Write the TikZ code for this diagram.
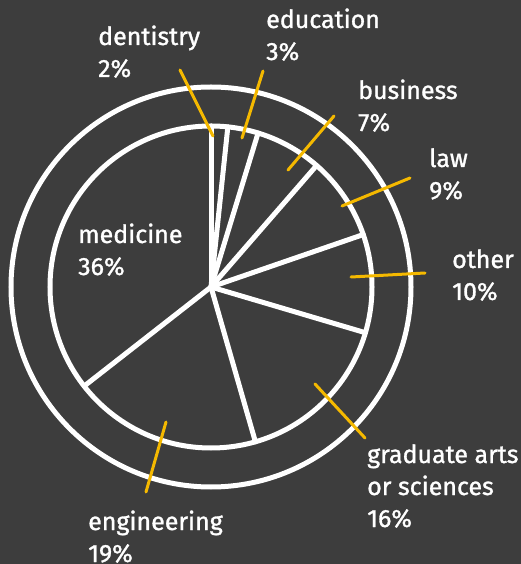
\documentclass[tikz,border=0pt]{standalone}
\usepackage{fontspec}
\setmainfont{Fira Sans}[UprightFeatures={FakeBold=1.2}]
\usepackage{xcolor}
\usepackage{tkz-euclide}
\usetikzlibrary{arrows, calc}
\definecolor{slate}{RGB}{61,61,61}
\definecolor{amber}{RGB}{245,185,0}
\tikzset{
  spoke/.style={white, line width=5pt, line cap=round},
  leader/.style={amber, line width=3pt},
  lbl/.style={text=white, font=\fontsize{25}{32}\selectfont, align=left, inner sep=0pt, anchor=base west}
}

\begin{document}
\begin{tikzpicture}[x=1pt,y=1pt]
    \fill[slate] (-211,-277) rectangle (310,287);
    \useasboundingbox (-211,-277) rectangle (310,287);
    \tkzDefPoint(0,0){O}
    \tkzDefPoint(90:161){s_1}
    \tkzDefPoint(84:161){s_2}
    \tkzDefPoint(73:161){s_3}
    \tkzDefPoint(49:161){s_4}
    \tkzDefPoint(19:161){s_5}
    \tkzDefPoint(-16.5:161){s_6}
    \tkzDefPoint(-74:161){s_7}
    \tkzDefPoint(218:161){s_8}
    \tkzDefPoint(0:200){r}
    % rings
    \tkzDrawCircle[spoke](O,s_1)
    \tkzDrawCircle[spoke](O,r)
    \tkzDrawSegments[spoke](O,s_1 O,s_2 O,s_3 O,s_4 O,s_5 O,s_6 O,s_7 O,s_8)
    % leaders
    \tkzDefPoint(-31,217){d_1}  \tkzDefPoint(2,151){d_2}
    \tkzDefPoint(52,216){e_1}   \tkzDefPoint(31,149){e_2}
    \tkzDefPoint(123,171){b_1}  \tkzDefPoint(77,117){b_2}
    \tkzDefPoint(199,109){l_1}  \tkzDefPoint(131,81){l_2}
    \tkzDefPoint(214,14){o_1}   \tkzDefPoint(140,10){o_2}
    \tkzDefPoint(154,-151){g_1} \tkzDefPoint(104,-97){g_2}
    \tkzDefPoint(-65,-205){n_1} \tkzDefPoint(-45,-135){n_2}
    \tkzDrawSegments[leader](d_1,d_2 e_1,e_2 b_1,b_2 l_1,l_2 o_1,o_2 g_1,g_2 n_1,n_2)
    % labels (anchored on the last line)
    \node[lbl] (dentistry) at (-113,210) {dentistry\\2\%};
    \node[lbl] (education) at (55,227) {education\\3\%};
    \node[lbl] (business) at (147,156) {business\\7\%};
    \node[lbl] (law) at (218,88) {law\\9\%};
    \node[lbl] (other) at (241,-13) {other\\10\%};
    \node[lbl] (graduate) at (156,-240) {graduate arts\\or sciences\\16\%};
    \node[lbl] (engineering) at (-123,-275) {engineering\\19\%};
    \node[lbl] (medicine) at (-133,12) {medicine\\36\%};
\end{tikzpicture}
\end{document}
